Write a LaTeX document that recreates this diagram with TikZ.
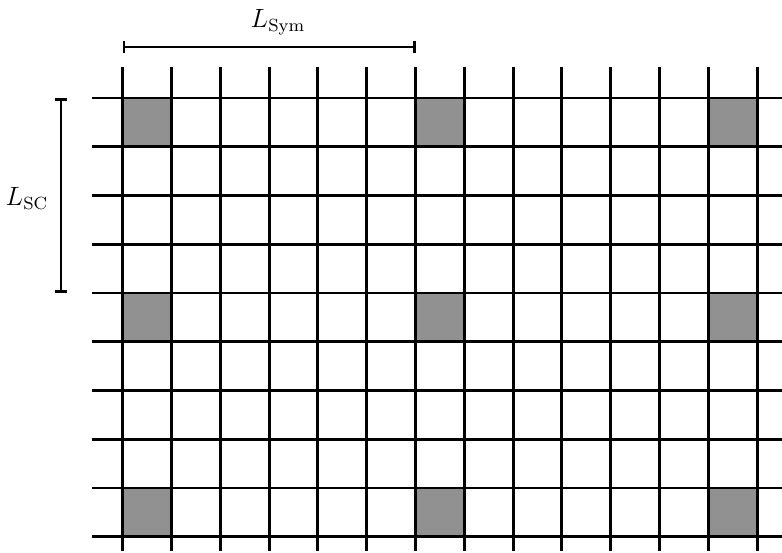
\documentclass[tikz,border=0pt]{standalone}
\usetikzlibrary{arrows.meta}
\definecolor{cellgray}{RGB}{145,145,145}
\begin{document}
\begin{tikzpicture}[x=0.4545pt,y=-0.4545pt,
  gridline/.style={black,line width=1.3pt},
  cell/.style={fill=cellgray},
  dimline/.style={{Bar[width=5.5pt]}-{Bar[width=5.5pt]}, line width=1.2pt},
  lbl/.style={inner sep=0pt,font=\fontsize{12}{14}\selectfont}]
\useasboundingbox (0,0) rectangle (782,552);
\foreach \i in {0,6,12} \foreach \j in {0,4,8}
  \path[cell] ({122.7+48.8*\i},{98+48.75*\j}) rectangle ++(48.8,48.75);
\foreach \i in {0,...,13}
  \draw[gridline] ({122.7+48.8*\i},67) -- ({122.7+48.8*\i},551);
\foreach \j in {0,...,9}
  \draw[gridline] (92,{98+48.75*\j}) -- (782,{98+48.75*\j});
\coordinate (s1) at (122.7,47);
\coordinate (s2) at (415.5,47);
\draw[dimline] (s1) -- (s2);
\node[lbl] (lsym) at (278,22) {$L_{\mathrm{Sym}}$};
\coordinate (c1) at (61,98);
\coordinate (c2) at (61,293);
\draw[dimline] (c1) -- (c2);
\node[lbl] (lsc) at (27,198) {$L_{\mathrm{SC}}$};
\end{tikzpicture}
\end{document}
